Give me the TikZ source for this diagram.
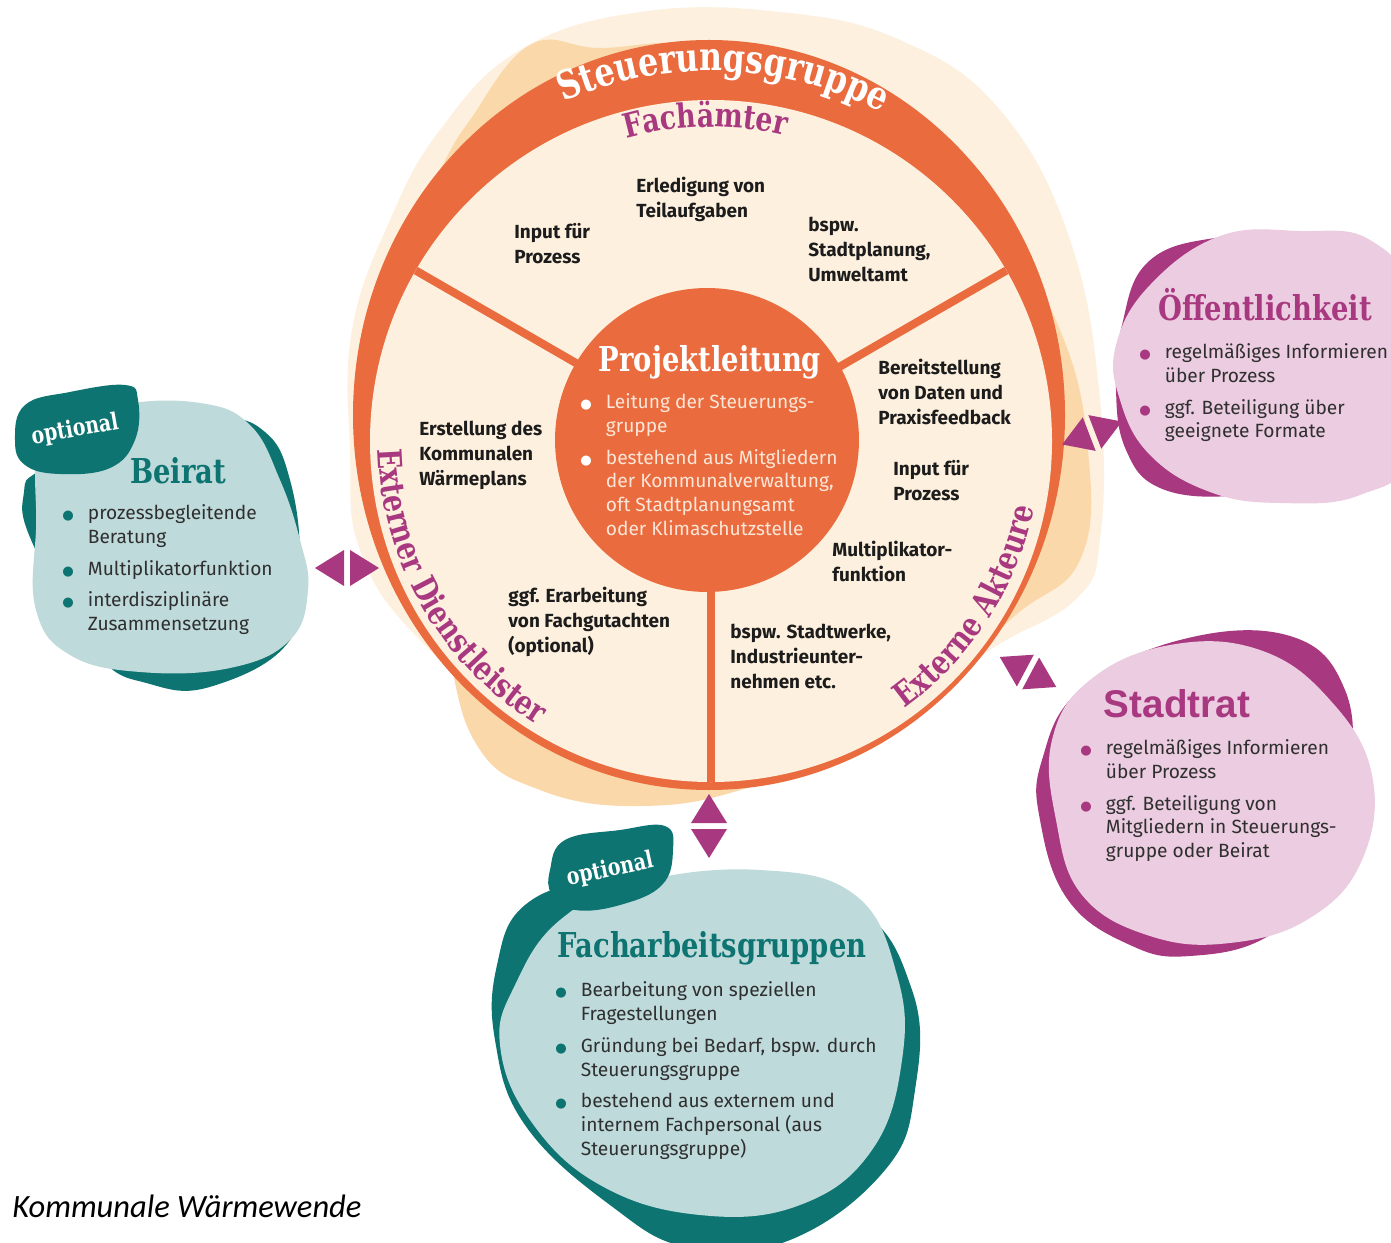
\documentclass[tikz,border=0pt]{standalone}
\usepackage{fontspec}
\setmainfont{Fira Sans}
\newfontfamily\slabfont[FakeStretch=0.8]{DejaVu Serif}
\newfontfamily\arialfont{Liberation Sans}
\newfontfamily\capfont{Carlito}
\newfontfamily\dotfont{DejaVu Sans}
\usetikzlibrary{calc, decorations.text, positioning}

\definecolor{ringorange}{HTML}{E96B3E}
\definecolor{cream}{HTML}{FEF0DE}
\definecolor{peach}{HTML}{FBD8A9}
\definecolor{plum}{HTML}{A8387F}
\definecolor{pinklight}{HTML}{EBCCE0}
\definecolor{tealdark}{HTML}{0D7471}
\definecolor{teallight}{HTML}{BFDADB}
\definecolor{inkdark}{HTML}{1C1C1C}
\definecolor{inkgrey}{HTML}{2F2F2F}
\definecolor{palewhite}{HTML}{FCE6D8}

\newcommand{\itemdot}[1]{\textcolor{#1}{\dotfont\fontsize{7.5}{7.5}\selectfont ●}}
\newcommand{\twoway}[3]{%
  \begin{scope}[shift={(#1,#2)}, rotate=#3]
    \fill[plum] (3,-18) -- (3,18) -- (32,0) -- cycle;
    \fill[plum] (-3,-18) -- (-3,18) -- (-32,0) -- cycle;
  \end{scope}}

\begin{document}
\begin{tikzpicture}[x=0.02cm, y=0.02cm,
    wheeltext/.style={font=\bfseries\fontsize{10.8}{14.2}\selectfont, text=inkdark, align=left, anchor=north west, inner sep=0pt},
    listtext/.style={font=\fontsize{10.9}{13.65}\selectfont, text=inkgrey, anchor=north west, inner sep=0pt},
    slabhead/.style={font=\slabfont\bfseries\fontsize{19.5}{21}\selectfont, anchor=base, inner sep=0pt},
    tagtext/.style={font=\slabfont\bfseries\fontsize{13.5}{15}\selectfont, text=white, inner sep=0pt}]
    \def\rin{341}

    \useasboundingbox[fill=white] (0,0) rectangle (1391,1242);

    % Hintergrund des Rades
    \fill[cream] plot[smooth cycle, tension=0.7] coordinates {(350,792) (352,912) (390,1022) (440,1112) (520,1192) (640,1230) (780,1230) (900,1202) (1000,1132) (1070,1002) (1100,842) (1100,702) (1075,642) (990,592) (900,522) (700,457) (550,497) (420,602) (360,692)};
    \fill[peach] plot[smooth cycle, tension=0.7] coordinates {(470,1122) (530,1197) (600,1194) (700,1197) (850,1162) (990,1027) (1060,912) (1088,792) (1080,682) (1010,622) (900,517) (750,455) (640,436) (540,452) (475,500) (440,620) (385,792) (395,982) (440,1072)};

    % Steuerungsgruppe
    \fill[ringorange] (709,827) ellipse [x radius=356, y radius=375];
    \coordinate (hub) at (711,801);
    \fill[cream] (hub) circle [radius=\rin];
    \foreach \a in {150,30,270}
      \draw[ringorange, line width=4.6pt] (hub) -- ++(\a:\rin);
    \node[circle, fill=ringorange, minimum size=6.08cm, inner sep=0pt] (lead) at (707,802) {};

    \path[decorate, decoration={text along path, text align=center,
      text={|\slabfont\bfseries\fontsize{22.5}{24}\selectfont\color{white}|Steuerungsgruppe}}]
      ($(hub)+(114:370)$) arc [start angle=114, end angle=62, radius=370];
    \path[decorate, decoration={text along path, text align=center,
      text={|\slabfont\bfseries\fontsize{19}{20}\selectfont\color{plum}|Fachämter}}]
      ($(hub)+(108:314)$) arc [start angle=108, end angle=74, radius=314];
    \path[decorate, decoration={text along path, text align=center,
      text={|\slabfont\bfseries\fontsize{19}{20}\selectfont\color{plum}|Externer Dienstleister}}]
      ($(hub)+(178:333)$) arc [start angle=178, end angle=242, radius=333];
    \path[decorate, decoration={text along path, text align=center,
      text={|\slabfont\bfseries\fontsize{19}{20}\selectfont\color{plum}|Externe Akteure}}]
      ($(hub)+(-58:330)$) arc [start angle=-58, end angle=-8, radius=330];

    \node[wheeltext] (tasks) at (636,1065) {Erledigung von\\Teilaufgaben};
    \node[wheeltext] (inputa) at (514,1019) {Input für\\Prozess};
    \node[wheeltext] (offices) at (808,1025) {bspw.\\Stadtplanung,\\Umweltamt};
    \node[wheeltext] (data) at (878,883) {Bereitstellung\\von Daten und\\Praxisfeedback};
    \node[wheeltext] (inputb) at (893,782) {Input für\\Prozess};
    \node[wheeltext] (multi) at (832,701) {Multiplikator-\\funktion};
    \node[wheeltext] (actors) at (730,618) {bspw. Stadtwerke,\\Industrieunter-\\nehmen etc.};
    \node[wheeltext] (expert) at (508,655) {ggf. Erarbeitung\\von Fachgutachten\\(optional)};
    \node[wheeltext] (plan) at (419,821) {Erstellung des\\Kommunalen\\Wärmeplans};

    % Projektleitung
    \node[slabhead, text=white] (leadhead) at (710,870) {Projektleitung};
    \node[listtext, text=palewhite] (leadlist) at (580,851) {%
      \begin{tabular}{@{}l@{\hspace{8pt}}l@{}}
        \itemdot{white} & Leitung der Steuerungs-\\
        & gruppe\\[4.5pt]
        \itemdot{white} & bestehend aus Mitgliedern\\
        & der Kommunalverwaltung,\\
        & oft Stadtplanungsamt\\
        & oder Klimaschutzstelle
      \end{tabular}};

    % Beirat
    \fill[tealdark] plot[smooth cycle, tension=0.7] coordinates {(40,772) (110,812) (215,824) (265,810) (290,762) (300,682) (290,602) (213,556) (150,558) (95,590) (32,700) (24,750)};
    \fill[teallight] plot[smooth cycle, tension=0.7] coordinates {(45,812) (120,837) (200,839) (250,817) (280,762) (300,702) (308,652) (290,602) (230,574) (140,570) (70,587) (36,632) (36,712)};
    \fill[tealdark] plot[smooth cycle, tension=0.7] coordinates {(15,802) (25,837) (70,850) (125,857) (138,842) (135,802) (110,774) (60,768) (25,777)};
    \node[tagtext, rotate=10] (tagb) at (75,812) {optional};
    \node[slabhead, text=tealdark] (board) at (178,759) {Beirat};
    \node[listtext] (boardlist) at (62,740) {%
      \begin{tabular}{@{}l@{\hspace{8pt}}l@{}}
        \itemdot{tealdark} & prozessbegleitende\\
        & Beratung\\[4.5pt]
        \itemdot{tealdark} & Multiplikatorfunktion\\[4.5pt]
        \itemdot{tealdark} & interdisziplinäre\\
        & Zusammensetzung
      \end{tabular}};

    % Öffentlichkeit
    \fill[plum] plot[smooth cycle, tension=0.7] coordinates {(1122,917) (1148,980) (1215,1004) (1290,1002) (1340,942) (1340,812) (1290,762) (1230,746) (1160,754) (1126,792) (1116,852)};
    \fill[pinklight] plot[smooth cycle, tension=0.7] coordinates {(1116,897) (1150,957) (1220,1006) (1300,1011) (1370,1002) (1410,942) (1410,792) (1360,747) (1280,739) (1210,750) (1150,787) (1120,842)};
    \node[slabhead, text=plum] (public) at (1265,921) {Öffentlichkeit};
    \node[listtext] (publiclist) at (1139,901) {%
      \begin{tabular}{@{}l@{\hspace{8pt}}l@{}}
        \itemdot{plum} & regelmäßiges Informieren\\
        & über Prozess\\[4.5pt]
        \itemdot{plum} & ggf. Beteiligung über\\
        & geeignete Formate
      \end{tabular}};

    % Stadtrat
    \fill[plum] plot[smooth cycle, tension=0.7] coordinates {(1042,482) (1080,552) (1180,602) (1290,606) (1345,552) (1350,462) (1330,372) (1270,307) (1190,286) (1130,297) (1068,342) (1040,422)};
    \fill[pinklight] plot[smooth cycle, tension=0.7] coordinates {(1052,502) (1090,562) (1170,597) (1260,592) (1330,542) (1372,467) (1362,382) (1310,324) (1230,299) (1150,306) (1082,347) (1056,422)};
    \node[font=\arialfont\bfseries\fontsize{22}{24}\selectfont, text=plum, anchor=base, inner sep=0pt] (council) at (1177,525) {Stadtrat};
    \node[listtext] (councillist) at (1080,505) {%
      \begin{tabular}{@{}l@{\hspace{8pt}}l@{}}
        \itemdot{plum} & regelmäßiges Informieren\\
        & über Prozess\\[4.5pt]
        \itemdot{plum} & ggf. Beteiligung von\\
        & Mitgliedern in Steuerungs-\\
        & gruppe oder Beirat
      \end{tabular}};

    % Facharbeitsgruppen
    \fill[tealdark] plot[smooth cycle, tension=0.7] coordinates {(497,277) (525,337) (600,362) (700,362) (850,337) (912,252) (915,152) (885,72) (790,2) (690,-6) (610,37) (525,117) (495,202)};
    \fill[teallight] plot[smooth cycle, tension=0.7] coordinates {(515,257) (560,322) (640,360) (760,372) (855,347) (897,267) (902,182) (872,92) (800,37) (700,27) (600,57) (530,122) (500,197)};
    \fill[tealdark] plot[smooth cycle, tension=0.7] coordinates {(550,372) (565,402) (620,412) (665,416) (673,392) (662,357) (620,337) (575,332) (552,347)};
    \node[tagtext, rotate=12] (tagf) at (610,372) {optional};
    \node[slabhead, text=tealdark] (groups) at (712,285) {Facharbeitsgruppen};
    \node[listtext] (groupslist) at (555,263) {%
      \begin{tabular}{@{}l@{\hspace{8pt}}l@{}}
        \itemdot{tealdark} & Bearbeitung von speziellen\\
        & Fragestellungen\\[4.5pt]
        \itemdot{tealdark} & Gründung bei Bedarf, bspw. durch\\
        & Steuerungsgruppe\\[4.5pt]
        \itemdot{tealdark} & bestehend aus externem und\\
        & internem Fachpersonal (aus\\
        & Steuerungsgruppe)
      \end{tabular}};

    % Verbindungen
    \twoway{347}{674}{0}
    \twoway{709}{416}{90}
    \twoway{1092}{809}{21}
    \twoway{1028}{570}{-28}

    \node[font=\capfont\itshape\fontsize{18.5}{21}\selectfont, anchor=base west, inner sep=0pt] (source) at (12,25) {Kommunale Wärmewende};
  \end{tikzpicture}
\end{document}
